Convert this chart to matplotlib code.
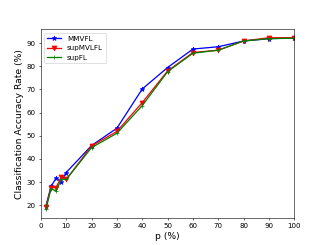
import matplotlib
matplotlib.use('Agg')
import matplotlib.pyplot as plt

p = [2, 4, 6, 8, 10, 20, 30, 40, 50, 60, 70, 80, 90, 100]
mmvfl = [19.5, 28.0, 31.5, 30.0, 34.0, 45.7, 53.2, 70.2, 79.5, 87.5, 88.5, 91.0, 92.0, 92.3]
supmvlfl = [19.0, 27.5, 27.5, 32.0, 31.0, 45.5, 51.8, 64.3, 78.0, 86.0, 87.0, 91.0, 92.4, 92.4]
supfl = [18.0, 27.0, 26.0, 31.0, 31.0, 44.8, 51.0, 63.0, 77.7, 85.7, 87.0, 91.0, 92.0, 92.2]

plt.figure(figsize=(6.4, 4.8), dpi=51.1)
plt.plot(p, mmvfl, 'b*-', label='MMVFL', lw=1.8, ms=7)
plt.plot(p, supmvlfl, 'rv-', label='supMVLFL', lw=1.8, ms=7)
plt.plot(p, supfl, 'g+-', label='supFL', lw=1.8, ms=7)
plt.xlim(0, 100)
plt.xticks([0, 10, 20, 30, 40, 50, 60, 70, 80, 90, 100])
plt.xlabel('p (%)', fontsize=13)
plt.ylabel('Classification Accuracy Rate (%)', fontsize=13)
plt.legend(loc='upper left')
plt.savefig('out.png', dpi=51.1)
